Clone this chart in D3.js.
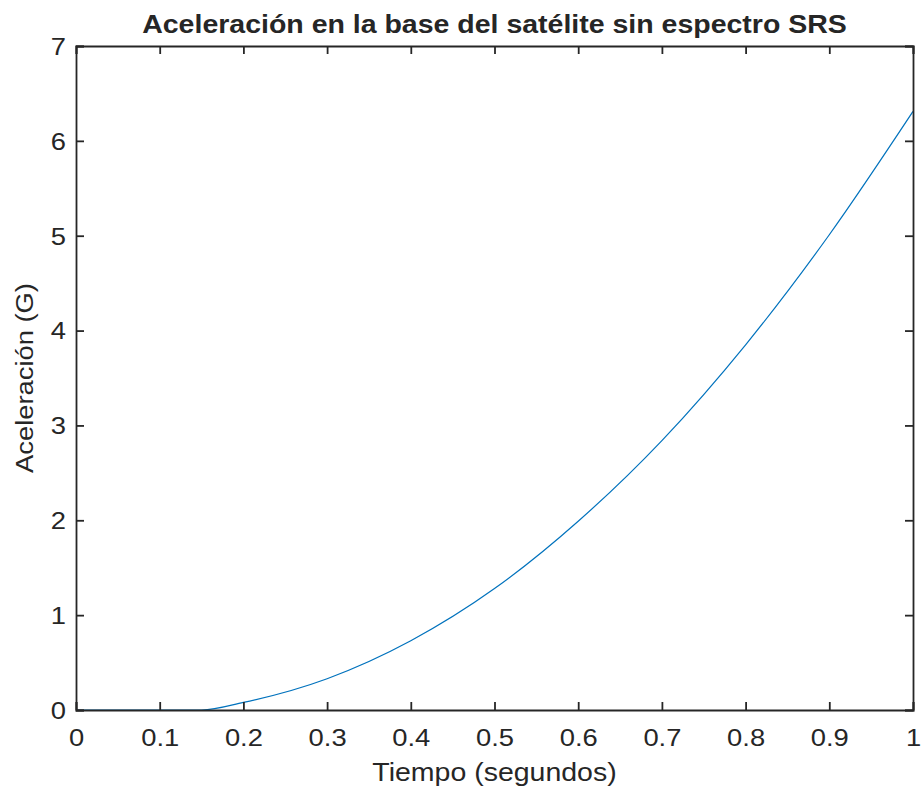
<!DOCTYPE html>
<html>
<head>
<meta charset="utf-8">
<script src="https://cdn.jsdelivr.net/npm/d3@7"></script>
<style>
  html, body { margin: 0; padding: 0; background: #fff; }
  svg { display: block; }
  text { font-family: "Liberation Sans", Arial, Helvetica, sans-serif; fill: #262626; }
</style>
</head>
<body>
<svg id="chart" width="922" height="792"></svg>
<script>
// ---- data ----
const tiempo = [0, 0.05, 0.1, 0.15, 0.2, 0.3, 0.4, 0.5, 0.6, 0.7, 0.8, 0.9, 1.0];
const aceleracion = [0, 0, 0, 0, 0.08, 0.33, 0.73, 1.28, 1.99, 2.84, 3.85, 5.01, 6.31];
const xTicks = [0, 0.1, 0.2, 0.3, 0.4, 0.5, 0.6, 0.7, 0.8, 0.9, 1];
const yTicks = [0, 1, 2, 3, 4, 5, 6, 7];
const titleText = "Aceleración en la base del satélite sin espectro SRS";
const xLabelText = "Tiempo (segundos)";
const yLabelText = "Aceleración (G)";

// ---- layout ----
const W = 922, H = 792;
const m = { left: 76, right: 9, top: 46, bottom: 82 };
const iw = W - m.left - m.right, ih = H - m.top - m.bottom;
const axisColor = "#262626";
const lineColor = "#0072BD";
const sx = 1.14; // horizontal text stretch of the reference

const svg = d3.select("#chart");
const g = svg.append("g").attr("transform", `translate(${m.left},${m.top})`);

const x = d3.scaleLinear().domain([0, 1]).range([0, iw]);
const y = d3.scaleLinear().domain([0, 7]).range([ih, 0]);

// line
const line = d3.line().x((d, i) => x(tiempo[i])).y(d => y(d)).curve(d3.curveMonotoneX);
g.append("path")
  .datum(aceleracion)
  .attr("fill", "none")
  .attr("stroke", lineColor)
  .attr("stroke-width", 1.2)
  .attr("d", line);

const tickLen = 8;
const xAxis = g.append("g").attr("transform", `translate(0,${ih})`)
  .call(d3.axisBottom(x).tickValues(xTicks).tickSize(-tickLen).tickPadding(0).tickFormat(d3.format("")));
const xAxisTop = g.append("g")
  .call(d3.axisTop(x).tickValues(xTicks).tickSize(-tickLen).tickFormat(""));
const yAxis = g.append("g")
  .call(d3.axisLeft(y).tickValues(yTicks).tickSize(-tickLen).tickFormat(d3.format("d")));
const yAxisRight = g.append("g").attr("transform", `translate(${iw},0)`)
  .call(d3.axisRight(y).tickValues(yTicks).tickSize(-tickLen).tickFormat(""));

[xAxis, xAxisTop, yAxis, yAxisRight].forEach(a => {
  a.select(".domain").attr("stroke", axisColor).attr("stroke-width", 1.8);
  a.selectAll(".tick line").attr("stroke", axisColor).attr("stroke-width", 1.8);
});

xAxis.selectAll(".tick text")
  .attr("font-size", 24).attr("fill", axisColor)
  .attr("y", 0).attr("dy", 0)
  .attr("transform", `translate(0,36) scale(${sx},1)`)
  .attr("text-anchor", "middle");

yAxis.selectAll(".tick text")
  .attr("font-size", 24).attr("fill", axisColor)
  .attr("x", 0).attr("dy", "0.35em")
  .attr("transform", `translate(-10,0) scale(${sx},1)`)
  .attr("text-anchor", "end");

// title
svg.append("text")
  .attr("transform", `translate(${m.left + iw / 2},33) scale(${sx},1)`)
  .attr("text-anchor", "middle")
  .attr("font-size", 25).attr("font-weight", "bold")
  .attr("fill", "#000")
  .text(titleText);

// x label
svg.append("text")
  .attr("transform", `translate(${m.left + iw / 2},781) scale(${sx},1)`)
  .attr("text-anchor", "middle")
  .attr("font-size", 25)
  .text(xLabelText);

// y label
svg.append("text")
  .attr("transform", `translate(33,${m.top + ih / 2}) rotate(-90) scale(${sx},1)`)
  .attr("text-anchor", "middle")
  .attr("font-size", 24)
  .text(yLabelText);
</script>
</body>
</html>
